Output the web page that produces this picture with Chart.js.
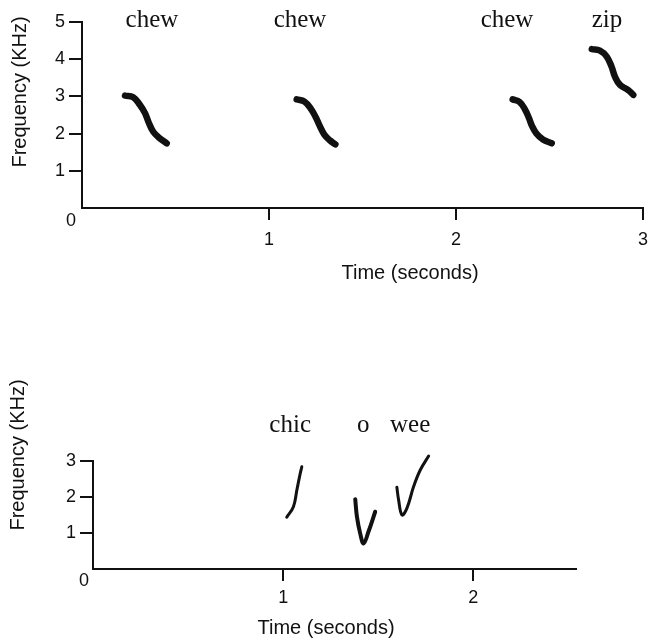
<!DOCTYPE html>
<html>
<head>
<meta charset="utf-8">
<title>Song spectrograms</title>
<script src="https://cdn.jsdelivr.net/npm/chart.js@4.4.1/dist/chart.umd.min.js"></script>
<style>
  html, body { margin: 0; padding: 0; background: #fff; }
  #wrap { position: relative; width: 650px; height: 641px; }
  #topBox { position: absolute; left: 0; top: 0; width: 650px; height: 300px; }
  #bottomBox { position: absolute; left: 0; top: 300px; width: 650px; height: 341px; }
</style>
</head>
<body>
<div id="wrap">
  <div id="topBox"><canvas id="topChart"></canvas></div>
  <div id="bottomBox"><canvas id="bottomChart"></canvas></div>
</div>
<script>
// ---- top song: chew chew chew zip (time in s, frequency in KHz) ----
const chew1Time = [0.230, 0.274, 0.310, 0.337, 0.355, 0.381, 0.417, 0.453];
const chew1Freq = [3.02, 2.98, 2.77, 2.55, 2.32, 2.05, 1.87, 1.74];
const chew2Time = [1.148, 1.190, 1.225, 1.250, 1.270, 1.295, 1.325, 1.355];
const chew2Freq = [2.92, 2.86, 2.66, 2.44, 2.22, 1.98, 1.82, 1.71];
const chew3Time = [2.303, 2.340, 2.370, 2.390, 2.405, 2.430, 2.465, 2.512];
const chew3Freq = [2.92, 2.85, 2.64, 2.42, 2.22, 2.00, 1.84, 1.74];
const zipTime = [2.726, 2.770, 2.806, 2.832, 2.850, 2.877, 2.921, 2.948];
const zipFreq = [4.27, 4.23, 4.07, 3.80, 3.53, 3.31, 3.17, 3.04];
const topWords = ['chew', 'chew', 'chew', 'zip'];
const topWordTimes = [0.374, 1.166, 2.273, 2.807];

// ---- bottom song: chic o wee ----
const chicTime = [1.019, 1.054, 1.072, 1.086, 1.098];
const chicFreq = [1.44, 1.73, 2.19, 2.56, 2.84];
const oTime = [1.379, 1.388, 1.405, 1.423, 1.449, 1.484];
const oFreq = [1.94, 1.45, 0.99, 0.71, 1.04, 1.59];
const weeTime = [1.598, 1.607, 1.625, 1.651, 1.686, 1.721, 1.765];
const weeFreq = [2.27, 1.92, 1.50, 1.69, 2.29, 2.75, 3.14];
const bottomWords = ['chic', 'o', 'wee'];
const bottomWordTimes = [1.037, 1.421, 1.668];

const SANS = '"Liberation Sans", Arial, sans-serif';
const SERIF = '"Liberation Serif", "Times New Roman", serif';

// pair up time/frequency arrays into {x, y} points
function toPoints(times, freqs) {
  return times.map((t, i) => ({ x: t, y: freqs[i] }));
}

function trace(times, freqs, width) {
  return {
    data: toPoints(times, freqs),
    borderColor: '#111',
    borderWidth: width,
    borderCapStyle: 'round',
    borderJoinStyle: 'round',
    pointRadius: 0,
    tension: 0.4,
    clip: false
  };
}

// draws the call words, the shared "0" at the origin and the axis titles
const annotatePlugin = {
  id: 'annotate',
  afterDraw(chart, args, opts) {
    const ctx = chart.ctx;
    const xs = chart.scales.x;
    const ys = chart.scales.y;
    const area = chart.chartArea;
    ctx.save();
    ctx.fillStyle = '#111';
    ctx.textAlign = 'center';

    ctx.font = '25px ' + SERIF;
    ctx.textBaseline = 'alphabetic';
    opts.words.forEach((w, i) => {
      ctx.fillText(w, xs.getPixelForValue(opts.wordTimes[i]), ys.getPixelForValue(opts.wordLevel));
    });

    ctx.font = '18px ' + SANS;
    ctx.textBaseline = 'middle';
    ctx.fillText('0', area.left + opts.zeroOffset[0], area.bottom + opts.zeroOffset[1]);

    ctx.font = '20px ' + SANS;
    ctx.fillText('Time (seconds)', opts.xTitleAt[0], opts.xTitleAt[1]);
    ctx.translate(opts.yTitleAt[0], opts.yTitleAt[1]);
    ctx.rotate(-Math.PI / 2);
    ctx.fillText('Frequency (KHz)', 0, 0);
    ctx.restore();
  }
};

function axisOptions(min, max, size, isX, tickPad, dashed) {
  return {
    type: 'linear',
    min: min,
    max: max,
    ticks: {
      stepSize: 1,
      color: '#111',
      padding: tickPad,
      font: { family: SANS, size: 18 }
    },
    grid: {
      drawOnChartArea: false,
      drawTicks: true,
      tickLength: isX ? 12 : 13,
      color: '#111',
      lineWidth: 2
    },
    border: { display: true, color: '#111', width: 2, dash: dashed ? [5, 3] : [] },
    // origin "0" is drawn by the plugin, non integer bounds are not labelled
    afterBuildTicks: scale => {
      scale.ticks = scale.ticks.filter(t => t.value > 0 && Number.isInteger(t.value));
    },
    afterFit: scale => {
      if (isX) scale.height = size; else scale.width = size;
      // layout padding alone decides where the plot area ends
      scale.paddingLeft = 0;
      scale.paddingRight = 0;
      scale.paddingTop = 0;
      scale.paddingBottom = 0;
    }
  };
}

function initSpectrogram(canvasId, datasets, xMax, yMax, layout, annotate) {
  const el = document.getElementById(canvasId);
  return new Chart(el, {
    type: 'line',
    data: { datasets: datasets },
    options: {
      responsive: true,
      maintainAspectRatio: false,
      animation: false,
      layout: { padding: layout.padding },
      scales: {
        x: axisOptions(0, xMax, layout.xHeight, true, layout.xTickPad, false),
        y: axisOptions(0, yMax, layout.yWidth, false, 4, layout.dashedY)
      },
      plugins: {
        legend: { display: false },
        tooltip: { enabled: false },
        annotate: annotate
      }
    },
    plugins: [annotatePlugin]
  });
}

document.addEventListener('DOMContentLoaded', function() {
  initSpectrogram('topChart', [
    trace(chew1Time, chew1Freq, 6.5),
    trace(chew2Time, chew2Freq, 6.5),
    trace(chew3Time, chew3Freq, 6.5),
    trace(zipTime, zipFreq, 6.5)
  ], 3, 5, {
    padding: { top: 22, right: 7, left: 0, bottom: 0 },
    xHeight: 92, yWidth: 82, xTickPad: 9, dashedY: false
  }, {
    words: topWords, wordTimes: topWordTimes, wordLevel: 4.87,
    zeroOffset: [-11, 13],
    xTitleAt: [410, 273],
    yTitleAt: [20, 92]
  });

  initSpectrogram('bottomChart', [
    trace(chicTime, chicFreq, 3),
    trace(oTime, oFreq, 4),
    trace(weeTime, weeFreq, 3)
  ], 2.54, 3, {
    padding: { top: 161, right: 74, left: 0, bottom: 0 },
    xHeight: 72, yWidth: 93, xTickPad: 6, dashedY: true
  }, {
    words: bottomWords, wordTimes: bottomWordTimes, wordLevel: 3.81,
    zeroOffset: [-9, 12],
    xTitleAt: [326, 328],
    yTitleAt: [18, 155]
  });
});
</script>
</body>
</html>
